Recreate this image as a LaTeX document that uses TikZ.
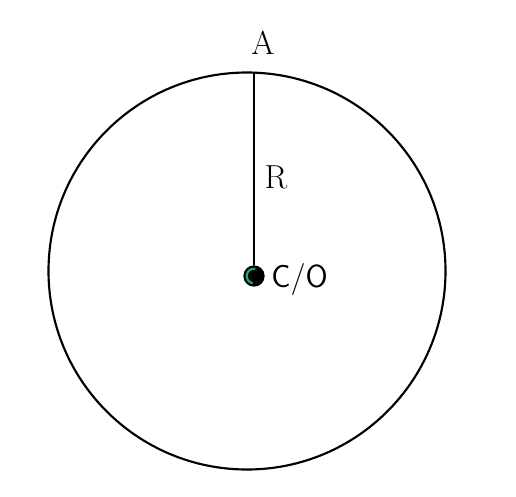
\documentclass[tikz,border=0pt]{standalone}
\usepackage{tikz}
\usetikzlibrary{positioning}
\usepackage{xcolor}
\definecolor{tealring}{HTML}{1FA888}

\begin{document}
\begin{tikzpicture}[
    x=0.75pt, y=-0.75pt,
    rim/.style={draw=black, line width=1.6pt},
    radius line/.style={draw=black, line width=1.6pt},
    centerdot/.style={circle, fill=black, inner sep=0pt, minimum size=16pt},
    lbl/.style={font=\fontsize{25}{30}\selectfont, inner sep=0pt},
    sflbl/.style={font=\fontsize{24}{28}\selectfont\sffamily, inner sep=0pt}
]
    % Cornice
    \useasboundingbox (0,0) rectangle (516,496);

    % Cerchio
    \coordinate (O) at (247,271);
    \draw[rim] (O) circle[radius=198.5];

    % Centro e punto A
    \node[centerdot] (C) at (254,276) {};
    \draw[tealring, line width=1.6pt] (C.center) ++(80:5.5pt) arc[start angle=80, end angle=260, radius=5.5pt];
    \coordinate (A) at (254,72.5);
    \draw[radius line] (A) -- (C.north);

    % Etichette
    \node[lbl] (lblA) at (263,43) {A};
    \node[lbl] (lblR) at (276,177) {R};
    \node[sflbl, anchor=west] (lblC) at (271,279) {C/O};
\end{tikzpicture}
\end{document}
